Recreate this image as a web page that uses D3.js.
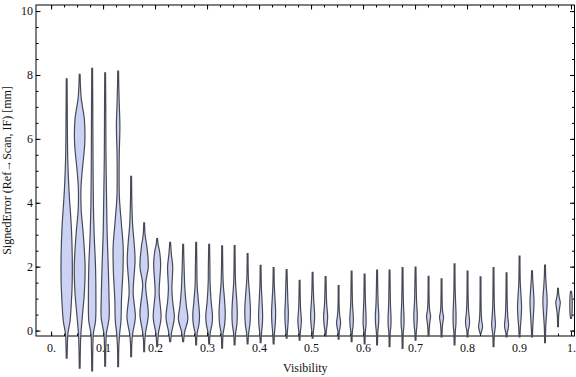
<!DOCTYPE html>
<html>
<head>
<meta charset="utf-8">
<style>
  body { margin: 0; background: #fff; }
  text { font-family: "Liberation Serif", "DejaVu Serif", serif; font-size: 12px; fill: #111; }
</style>
</head>
<body>
<div id="chart"></div>
<script src="https://d3js.org/d3.v7.min.js"></script>
<script>
  // Visibility bin centres (x) of the violins
  const visibility = [
    0.030, 0.055, 0.079, 0.104, 0.129, 0.154, 0.179, 0.204, 0.229, 0.254,
    0.279, 0.304, 0.329, 0.353, 0.378, 0.403, 0.428, 0.453, 0.478, 0.503,
    0.528, 0.553, 0.578, 0.603, 0.627, 0.651, 0.676, 0.701, 0.726, 0.751,
    0.776, 0.801, 0.826, 0.851, 0.876, 0.901, 0.925, 0.950, 0.975, 1.000
  ];

  // Density profile of each violin: [signed error (mm), relative density]
  const profiles = [
    [[-0.86,0],[-0.5,0.05],[-0.1,0.15],[0.3,0.55],[0.9,0.8],[1.5,0.95],[2.3,0.96],[3.2,0.8],[4.4,0.35],[5.4,0.12],[6.5,0.05],[7.88,0]],
    [[-1.18,0],[-0.6,0.05],[-0.1,0.15],[0.4,0.4],[1.2,0.8],[2.0,0.93],[3.0,0.6],[3.8,0.2],[4.5,0.18],[5.0,0.4],[5.9,0.88],[6.6,0.8],[7.3,0.2],[8.02,0]],
    [[-1.26,0],[-0.6,0.05],[-0.1,0.15],[0.3,0.55],[1.0,0.62],[2.0,0.55],[3.0,0.3],[4.0,0.15],[5.5,0.08],[7.0,0.04],[8.21,0]],
    [[-1.11,0],[-0.5,0.05],[-0.1,0.15],[0.4,0.66],[1.0,0.65],[2.0,0.5],[3.0,0.3],[4.0,0.2],[5.5,0.08],[7.0,0.04],[8.07,0]],
    [[-1.13,0],[-0.5,0.05],[-0.1,0.2],[0.3,0.45],[1.0,0.55],[1.8,0.8],[2.6,0.86],[3.4,0.5],[4.2,0.15],[5.4,0.12],[6.4,0.25],[7.0,0.15],[7.6,0.05],[8.12,0]],
    [[-0.82,0],[-0.4,0.05],[-0.1,0.2],[0.4,0.7],[1.2,0.3],[2.2,0.65],[2.7,0.5],[3.3,0.2],[4.0,0.06],[4.83,0]],
    [[-0.66,0],[-0.3,0.05],[-0.05,0.2],[0.5,0.7],[1.45,0.2],[2.0,0.7],[2.6,0.45],[3.0,0.1],[3.37,0]],
    [[-0.5,0],[-0.1,0.15],[0.4,0.65],[1.2,0.3],[2.1,0.57],[2.5,0.35],[2.7,0.1],[2.88,0]],
    [[-0.35,0],[-0.05,0.2],[0.4,0.7],[0.9,0.4],[1.3,0.25],[2.0,0.4],[2.4,0.15],[2.76,0]],
    [[-0.35,0],[-0.05,0.2],[0.35,0.8],[0.8,0.5],[1.3,0.25],[2.0,0.1],[2.7,0]],
    [[-0.45,0],[-0.1,0.1],[0.2,0.45],[0.5,0.55],[0.9,0.35],[1.4,0.12],[2.0,0.06],[2.76,0]],
    [[-0.42,0],[-0.1,0.1],[0.2,0.45],[0.45,0.55],[0.9,0.3],[1.5,0.1],[2.0,0.07],[2.7,0]],
    [[-0.55,0],[-0.1,0.1],[0.2,0.4],[0.55,0.5],[1.0,0.35],[1.5,0.12],[2.65,0]],
    [[-0.45,0],[-0.1,0.1],[0.2,0.35],[0.55,0.42],[1.0,0.3],[1.5,0.1],[2.66,0]],
    [[-0.42,0],[-0.1,0.1],[0.2,0.35],[0.65,0.45],[1.1,0.3],[1.6,0.08],[2.41,0]],
    [[-0.38,0],[-0.1,0.08],[0.2,0.25],[0.45,0.3],[0.9,0.2],[1.4,0.06],[2.04,0]],
    [[-0.42,0],[-0.1,0.08],[0.25,0.25],[0.6,0.3],[1.0,0.18],[1.4,0.06],[1.97,0]],
    [[-0.24,0],[-0.05,0.06],[0.25,0.2],[0.55,0.25],[0.95,0.15],[1.91,0]],
    [[-0.3,0],[-0.05,0.06],[0.15,0.2],[0.35,0.25],[0.7,0.1],[1.57,0]],
    [[-0.24,0],[-0.05,0.06],[0.2,0.22],[0.5,0.3],[0.9,0.15],[1.3,0.05],[1.82,0]],
    [[-0.17,0],[0.0,0.06],[0.2,0.22],[0.45,0.3],[0.85,0.12],[1.69,0]],
    [[-0.27,0],[-0.05,0.04],[0.1,0.2],[0.25,0.3],[0.45,0.15],[0.7,0.04],[1.41,0]],
    [[-0.35,0],[-0.05,0.06],[0.15,0.2],[0.4,0.25],[0.8,0.1],[1.86,0]],
    [[-0.42,0],[-0.05,0.06],[0.2,0.2],[0.5,0.18],[0.9,0.08],[1.77,0]],
    [[-0.45,0],[-0.05,0.06],[0.2,0.2],[0.45,0.25],[0.85,0.12],[1.89,0]],
    [[-0.5,0],[-0.05,0.06],[0.15,0.18],[0.4,0.2],[0.8,0.1],[1.89,0]],
    [[-0.56,0],[-0.05,0.06],[0.15,0.18],[0.4,0.2],[0.9,0.08],[1.97,0]],
    [[-0.3,0],[-0.05,0.06],[0.2,0.2],[0.5,0.25],[0.9,0.12],[1.99,0]],
    [[-0.17,0],[0.05,0.05],[0.25,0.15],[0.45,0.3],[0.65,0.12],[0.9,0.04],[1.7,0]],
    [[-0.2,0],[0.05,0.05],[0.25,0.15],[0.41,0.3],[0.6,0.12],[0.9,0.04],[1.62,0]],
    [[-0.45,0],[-0.05,0.06],[0.2,0.18],[0.5,0.2],[0.9,0.12],[1.3,0.04],[2.09,0]],
    [[-0.2,0],[0.0,0.06],[0.15,0.25],[0.3,0.3],[0.55,0.15],[0.9,0.05],[1.86,0]],
    [[-0.1,0],[0.0,0.15],[0.12,0.3],[0.3,0.15],[0.6,0.05],[1.68,0]],
    [[-0.5,0],[-0.15,0.06],[0.05,0.2],[0.2,0.28],[0.5,0.15],[0.9,0.06],[1.97,0]],
    [[-0.2,0],[-0.05,0.08],[0.05,0.22],[0.17,0.3],[0.45,0.15],[0.9,0.05],[1.81,0]],
    [[-0.2,0],[0.1,0.08],[0.4,0.22],[0.75,0.3],[1.1,0.2],[1.5,0.06],[2.33,0]],
    [[-0.2,0],[0.1,0.06],[0.45,0.18],[0.9,0.3],[1.3,0.18],[1.6,0.06],[1.87,0]],
    [[-0.38,0],[0.1,0.05],[0.5,0.2],[0.95,0.32],[1.4,0.15],[1.7,0.05],[2.05,0]],
    [[0.12,0],[0.5,0.06],[0.75,0.25],[0.87,0.35],[1.0,0.2],[1.15,0.05],[1.32,0]],
    [[0.38,0],[0.5,0.1],[0.8,0.15],[1.1,0.1],[1.23,0]]
  ];

  // Tick labels
  const xTicks = [0, 0.1, 0.2, 0.3, 0.4, 0.5, 0.6, 0.7, 0.8, 0.9, 1];
  const xTickLabels = ["0.", "0.1", "0.2", "0.3", "0.4", "0.5", "0.6", "0.7", "0.8", "0.9", "1."];
  const yTicks = [0, 2, 4, 6, 8, 10];
  const yTickLabels = ["0", "2", "4", "6", "8", "10"];

  const width = 576;
  const height = 377;
  const plotLeft = 36, plotRight = 574.5, plotTop = 5, plotBottom = 336;

  const x = d3.scaleLinear().domain([-0.029, 1.0067]).range([plotLeft, plotRight]);
  const y = d3.scaleLinear().domain([-0.17, 10.19]).range([plotBottom, plotTop]);
  // half width in px of a violin for a relative density
  const hw = d3.scaleLinear().domain([0, 1]).range([0.4, 5.8]);

  const svg = d3.select('#chart')
    .append('svg')
    .attr('width', width)
    .attr('height', height);

  const xMinor = d3.range(0, 1.0001, 0.025);
  const yMinor = d3.range(0, 10.001, 0.5);

  // frame ticks, all pointing inward
  function ticks(g, axis) {
    g.call(axis);
    g.select('.domain').remove();
    g.selectAll('.tick line').attr('stroke', '#000');
  }

  svg.append('g').attr('transform', `translate(0,${plotBottom})`)
    .call(ticks, d3.axisBottom(x).tickValues(xMinor).tickSize(-2.5).tickFormat(''));
  svg.append('g').attr('transform', `translate(0,${plotBottom})`)
    .call(ticks, d3.axisBottom(x).tickValues(xTicks).tickSize(-4.5).tickPadding(7.5)
      .tickFormat((d, i) => xTickLabels[i]));
  svg.append('g').attr('transform', `translate(0,${plotTop})`)
    .call(ticks, d3.axisTop(x).tickValues(xMinor).tickSize(-2.5).tickFormat(''));
  svg.append('g').attr('transform', `translate(0,${plotTop})`)
    .call(ticks, d3.axisTop(x).tickValues(xTicks).tickSize(-4.5).tickFormat(''));

  svg.append('g').attr('transform', `translate(${plotLeft},0)`)
    .call(ticks, d3.axisLeft(y).tickValues(yMinor).tickSize(-2.5).tickFormat(''));
  svg.append('g').attr('transform', `translate(${plotLeft},0)`)
    .call(ticks, d3.axisLeft(y).tickValues(yTicks).tickSize(-4.5).tickPadding(3)
      .tickFormat((d, i) => yTickLabels[i]));
  svg.append('g').attr('transform', `translate(${plotRight},0)`)
    .call(ticks, d3.axisRight(y).tickValues(yMinor).tickSize(-2.5).tickFormat(''));
  svg.append('g').attr('transform', `translate(${plotRight},0)`)
    .call(ticks, d3.axisRight(y).tickValues(yTicks).tickSize(-4.5).tickFormat(''));

  svg.selectAll('g[font-family]')
    .attr('font-family', null)
    .attr('font-size', null);
  svg.selectAll('.tick text').attr('fill', null);

  svg.append('rect')
    .attr('x', plotLeft).attr('y', plotTop)
    .attr('width', plotRight - plotLeft).attr('height', plotBottom - plotTop)
    .attr('fill', 'none')
    .attr('stroke', '#000')
    .attr('stroke-width', 1);

  // violins
  const violin = (cx) => d3.area()
    .y((d) => y(d[0]))
    .x0((d) => x(cx) - hw(d[1]))
    .x1((d) => x(cx) + hw(d[1]))
    .curve(d3.curveCatmullRom.alpha(0.5));

  svg.append('g').selectAll('path')
    .data(profiles)
    .enter()
    .append('path')
    .attr('d', (d, i) => violin(visibility[i])(d))
    .attr('fill', '#cbd2f4')
    .attr('stroke', '#474a54')
    .attr('stroke-width', 1.2);

  // axis titles
  svg.append('text')
    .attr('x', (plotLeft + plotRight) / 2)
    .attr('y', 372)
    .attr('text-anchor', 'middle')
    .text('Visibility');

  svg.append('text')
    .attr('transform', `translate(10.7,${(plotTop + plotBottom) / 2}) rotate(-90)`)
    .attr('text-anchor', 'middle')
    .text('SignedError (Ref\u2192Scan, IF) [mm]');
</script>
</body>
</html>
